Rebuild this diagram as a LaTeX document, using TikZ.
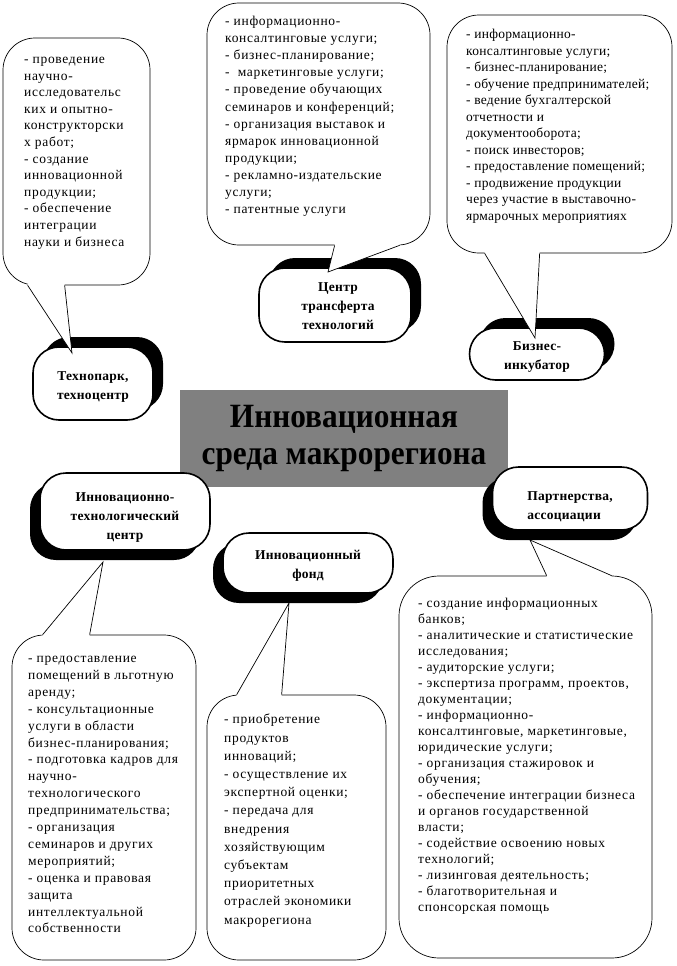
\documentclass[tikz,border=0pt]{standalone}
\usepackage{fontspec}
\setmainfont{Liberation Serif}
\newfontfamily\bodyf[LetterSpace=5]{Liberation Serif}
\newfontfamily\bodyg[LetterSpace=2]{Liberation Serif}
\newfontfamily\labf[LetterSpace=2]{Liberation Serif}
\newfontfamily\titlef[FakeStretch=0.92]{Liberation Serif}
\usetikzlibrary{shadows,calc}
\definecolor{boxgray}{RGB}{128,128,128}
\newcommand\mytail[4]{%
  \fill[white] ($(#1)+(0,#4)$) -- (#1) -- (#2) -- (#3) -- ($(#3)+(0,#4)$) -- cycle;
  \draw[line width=0.7pt] (#1) -- (#2) -- (#3);}
\begin{document}
\begin{tikzpicture}[x=1pt,y=-1pt,
  bubble/.style={draw, line width=0.7pt, fill=white, rounded corners=32pt, inner sep=0pt},
  btext/.style={anchor=north west, inner sep=0pt, align=left},
  org/.style={draw, line width=1.6pt, fill=white, rounded corners=26pt, inner sep=0pt},
  lab/.style={inner sep=0pt, align=center, font=\labf\bfseries\fontsize{13.5}{19}\selectfont},
  shUR/.style={general shadow={fill=black, shadow xshift=10pt, shadow yshift=10pt}},
  shDL/.style={general shadow={fill=black, shadow xshift=-10pt, shadow yshift=-10pt}}]
\useasboundingbox (0,0) rectangle (677,966);
\fill[white] (0,0) rectangle (677,966);
% organisation nodes
\node[org, shUR, minimum width=120pt, minimum height=73pt,
  label={[lab, yshift=-4pt]center:{Технопарк,\\техноцентр}}] (tp) at (93,383.5) {};
\node[org, shUR, minimum width=152pt, minimum height=74pt,
  label={[lab, xshift=3pt, yshift=-1pt]center:{Центр\\трансферта\\технологий}}] (ctt) at (335,305) {};
\node[org, shUR, minimum width=135pt, minimum height=52pt,
  label={[lab, yshift=-3pt]center:{Бизнес-\\инкубатор}}] (bi) at (537,354) {};
\node[fill=boxgray, minimum width=328pt, minimum height=97pt, inner sep=0pt, align=center,
  font=\titlef\bfseries\fontsize{34}{37}\selectfont] (c) at (344,438.5) {Инновационная\\среда макрорегиона};
\node[org, shDL, minimum width=170pt, minimum height=77pt,
  label={[lab, yshift=-6pt]center:{Инновационно-\\технологический\\центр}}] (itc) at (125,511.5) {};
\node[org, shDL, minimum width=170pt, minimum height=60pt,
  label={[lab, yshift=-3pt]center:{Инновационный\\фонд}}] (fund) at (308,563) {};
\node[org, shDL, minimum width=155pt, minimum height=63pt,
  label={[lab, align=left, yshift=-8pt]center:{Партнерства,\\ассоциации}}] (part) at (570,498.5) {};
% bubbles
\node[bubble, minimum width=147pt, minimum height=247pt] (b1) at (76.5,161.5) {};
\node[bubble, minimum width=223pt, minimum height=242pt] (b2) at (318.5,124) {};
\node[bubble, minimum width=225pt, minimum height=238pt] (b3) at (559.5,134) {};
\node[bubble, minimum width=184pt, minimum height=325pt] (b4) at (104,797.5) {};
\node[bubble, minimum width=179pt, minimum height=265pt] (b5) at (296.5,827.5) {};
\node[bubble, rounded corners=40pt, minimum width=253pt, minimum height=382pt] (b6) at (525.5,767) {};
% tails
\coordinate (b1l) at ([xshift=25pt]b1.south west);
\coordinate (b1r) at ([xshift=62pt]b1.south west);
\coordinate (t1) at (72,353);
\mytail{b1l}{t1}{b1r}{-2}
\coordinate (b2l) at ([xshift=128pt]b2.south west);
\coordinate (b2r) at ([xshift=193pt]b2.south west);
\coordinate (t2) at (328,272);
\mytail{b2l}{t2}{b2r}{-2}
\coordinate (b3l) at ([xshift=38pt]b3.south west);
\coordinate (b3r) at ([xshift=93pt]b3.south west);
\coordinate (t3) at (535,338);
\mytail{b3l}{t3}{b3r}{-2}
\coordinate (b4l) at ([xshift=31pt]b4.north west);
\coordinate (b4r) at ([xshift=78pt]b4.north west);
\coordinate (t4) at (103,562);
\mytail{b4l}{t4}{b4r}{2}
\coordinate (b5l) at ([xshift=30pt]b5.north west);
\coordinate (b5r) at ([xshift=75pt]b5.north west);
\coordinate (t5) at (289,603);
\mytail{b5l}{t5}{b5r}{2}
\coordinate (b6l) at ([xshift=148pt]b6.north west);
\coordinate (b6r) at ([xshift=213pt]b6.north west);
\coordinate (t6) at (530,540);
\mytail{b6l}{t6}{b6r}{2}
% bubble texts
\node[btext, font=\bodyf\fontsize{13.5}{16.6}\selectfont] (x1) at (24,57) {- проведение\\научно-\\исследовательс\\ких и опытно-\\конструкторски\\х работ;\\- создание\\инновационной\\продукции;\\- обеспечение\\интеграции\\науки и бизнеса};
\node[btext, font=\bodyf\fontsize{13.5}{17.1}\selectfont] (x2) at (225,16) {- информационно-\\консалтинговые услуги;\\- бизнес-планирование;\\-~ маркетинговые услуги;\\- проведение обучающих\\семинаров и конференций;\\- организация выставок и\\ярмарок инновационной\\продукции;\\- рекламно-издательские\\услуги;\\- патентные услуги};
\node[btext, font=\bodyg\fontsize{13.5}{16.5}\selectfont] (x3) at (466,29) {- информационно-\\консалтинговые услуги;\\- бизнес-планирование;\\- обучение предпринимателей;\\- ведение бухгалтерской\\отчетности и\\документооборота;\\- поиск инвесторов;\\- предоставление помещений;\\- продвижение продукции\\через участие в выставочно-\\ярмарочных мероприятиях};
\node[btext, font=\bodyf\fontsize{13.5}{16.9}\selectfont] (x4) at (28,656) {- предоставление\\помещений в льготную\\аренду;\\- консультационные\\услуги в области\\бизнес-планирования;\\- подготовка кадров для\\научно-\\технологического\\предпринимательства;\\- организация\\семинаров и других\\мероприятий;\\- оценка и правовая\\защита\\интеллектуальной\\собственности};
\node[btext, font=\bodyf\fontsize{13.5}{18.2}\selectfont] (x5) at (224,714) {- приобретение\\продуктов\\инноваций;\\- осуществление их\\экспертной оценки;\\- передача для\\внедрения\\хозяйствующим\\субъектам\\приоритетных\\отраслей экономики\\макрорегиона};
\node[btext, font=\bodyf\fontsize{13.5}{16}\selectfont] (x6) at (418,598) {- создание информационных\\банков;\\- аналитические и статистические\\исследования;\\- аудиторские услуги;\\- экспертиза программ, проектов,\\документации;\\- информационно-\\консалтинговые, маркетинговые,\\юридические услуги;\\- организация стажировок и\\обучения;\\- обеспечение интеграции бизнеса\\и органов государственной\\власти;\\- содействие освоению новых\\технологий;\\- лизинговая деятельность;\\- благотворительная и\\спонсорская помощь};
\end{tikzpicture}
\end{document}
